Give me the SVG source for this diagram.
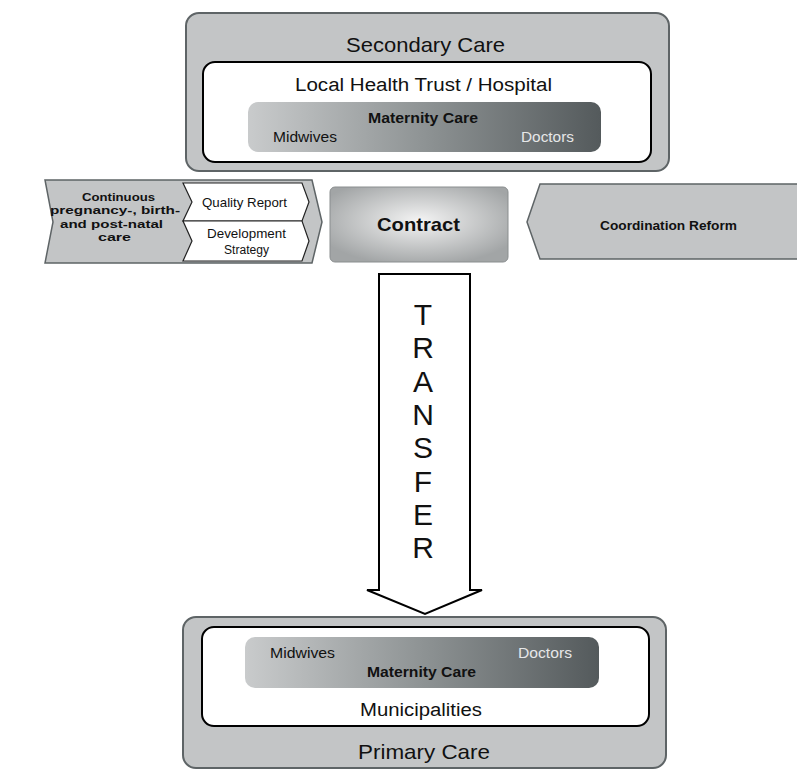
<svg xmlns="http://www.w3.org/2000/svg" width="797" height="769" viewBox="0 0 797 769">
<style>
  text { font-family: "Liberation Sans", Arial, sans-serif; fill: #111; }
  .outer { fill: #c3c5c6; stroke: #5e6466; stroke-width: 2; }
  .inner { fill: #ffffff; stroke: #000; stroke-width: 2; }
  .chev { fill: #c3c5c6; stroke: #5e6466; stroke-width: 1.5; }
  .wchev { fill: #ffffff; stroke: #222; stroke-width: 1.2; }
  .b { font-weight: bold; }
  .light { fill: #e6e7e8; }
</style>
<defs>
  <linearGradient id="mat" x1="0" y1="0" x2="1" y2="0">
    <stop offset="0" stop-color="#c9cbcc"/>
    <stop offset="0.5" stop-color="#8e9394"/>
    <stop offset="1" stop-color="#545a5c"/>
  </linearGradient>
  <radialGradient id="con" cx="0.5" cy="0.45" r="0.6">
    <stop offset="0" stop-color="#f4f4f4"/>
    <stop offset="1" stop-color="#a2a5a6"/>
  </radialGradient>
</defs>

<g id="secondary-care">
  <rect class="outer" x="186" y="13" width="483" height="158" rx="13"/>
  <text x="346" y="52" font-size="21" textLength="159" lengthAdjust="spacingAndGlyphs">Secondary Care</text>
  <g id="hospital">
    <rect class="inner" x="203" y="62" width="448" height="100" rx="12"/>
    <text x="295" y="91" font-size="18" textLength="257" lengthAdjust="spacingAndGlyphs">Local Health Trust / Hospital</text>
  </g>
  <g id="maternity-top">
    <rect x="248" y="102" width="353" height="50" rx="10" fill="url(#mat)"/>
    <text class="b" x="368" y="123" font-size="14" textLength="110" lengthAdjust="spacingAndGlyphs">Maternity Care</text>
    <text x="273" y="142" font-size="14.5" textLength="64" lengthAdjust="spacingAndGlyphs">Midwives</text>
    <text class="light" x="521" y="142" font-size="14.5" textLength="53" lengthAdjust="spacingAndGlyphs">Doctors</text>
  </g>
</g>

<g id="continuous-care">
  <polygon class="chev" points="45,180 312,180 322,222 312,263 45,263 53,222"/>
  <text class="b" font-size="11.5">
    <tspan x="82" y="201" textLength="73" lengthAdjust="spacingAndGlyphs">Continuous</tspan>
    <tspan x="50" y="214" textLength="130" lengthAdjust="spacingAndGlyphs">pregnancy-, birth-</tspan>
    <tspan x="60" y="228" textLength="103" lengthAdjust="spacingAndGlyphs">and post-natal</tspan>
    <tspan x="98" y="241" textLength="33" lengthAdjust="spacingAndGlyphs">care</tspan>
  </text>
</g>
<g id="quality-report">
  <polygon class="wchev" points="183,183 302,183 309,202 302,221 183,221 192,202"/>
  <text x="202" y="207" font-size="13" textLength="85" lengthAdjust="spacingAndGlyphs">Quality Report</text>
</g>
<g id="development-strategy">
  <polygon class="wchev" points="183,221 302,221 309,241 302,261 183,261 192,241"/>
  <text x="207" y="238" font-size="12.5" textLength="79" lengthAdjust="spacingAndGlyphs">Development</text>
  <text x="224" y="254" font-size="12.5" textLength="45" lengthAdjust="spacingAndGlyphs">Strategy</text>
</g>

<g id="contract">
  <rect x="330" y="187" width="178" height="75" rx="5" fill="url(#con)" stroke="#8a8e8f" stroke-width="1"/>
  <text class="b" x="377" y="231" font-size="19" textLength="83" lengthAdjust="spacingAndGlyphs">Contract</text>
</g>

<g id="coordination-reform">
  <polygon class="chev" points="540,184 800,184 800,259 540,259 527,222"/>
  <text class="b" x="600" y="230" font-size="13.5" textLength="137" lengthAdjust="spacingAndGlyphs">Coordination Reform</text>
</g>

<g id="connectors">
  <g id="transfer">
    <polygon points="379,274 470,274 470,590 482,590 425,614 367,590 379,590" fill="#fff" stroke="#000" stroke-width="2" stroke-linejoin="miter"/>
    <g font-size="30" text-anchor="middle">
      <text x="423" y="325">T</text>
      <text x="423" y="358">R</text>
      <text x="423" y="392">A</text>
      <text x="423" y="425">N</text>
      <text x="423" y="458">S</text>
      <text x="423" y="492">F</text>
      <text x="423" y="525">E</text>
      <text x="423" y="558">R</text>
    </g>
  </g>
</g>

<g id="primary-care">
  <rect class="outer" x="183" y="617" width="483" height="151" rx="13"/>
  <text x="358" y="759" font-size="21" textLength="132" lengthAdjust="spacingAndGlyphs">Primary Care</text>
  <g id="municipalities">
    <rect class="inner" x="202" y="627" width="447" height="99" rx="12"/>
    <text x="360" y="716" font-size="18" textLength="122" lengthAdjust="spacingAndGlyphs">Municipalities</text>
  </g>
  <g id="maternity-bottom">
    <rect x="245" y="637" width="354" height="51" rx="10" fill="url(#mat)"/>
    <text x="270" y="658" font-size="14.5" textLength="65" lengthAdjust="spacingAndGlyphs">Midwives</text>
    <text class="light" x="518" y="658" font-size="14.5" textLength="54" lengthAdjust="spacingAndGlyphs">Doctors</text>
    <text class="b" x="367" y="677" font-size="14" textLength="109" lengthAdjust="spacingAndGlyphs">Maternity Care</text>
  </g>
</g>
</svg>
